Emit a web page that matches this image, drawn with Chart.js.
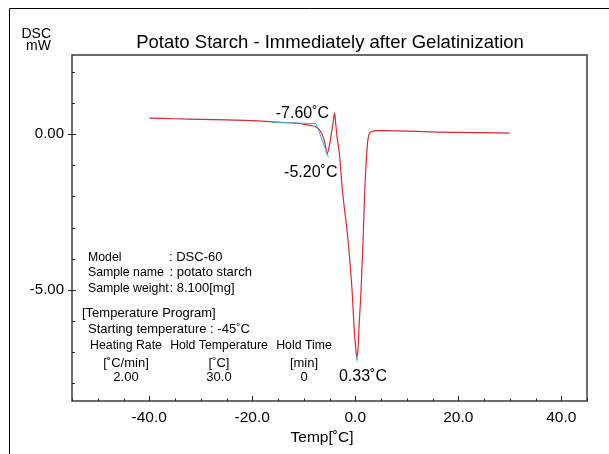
<!DOCTYPE html>
<html>
<head>
<meta charset="utf-8">
<script src="https://cdn.jsdelivr.net/npm/chart.js@4.4.1/dist/chart.umd.min.js"></script>
<style>
  html, body { margin: 0; padding: 0; background: #fff; }
  canvas { display: block; }
</style>
</head>
<body>
<canvas id="chart" width="609" height="454"></canvas>
<script>
// DSC trace (temperature in degC, heat flow in mW)
const tempC = [-40, -35, -30, -25, -20, -16, -13, -11, -9.5, -8.5, -7.8, -7.3, -6.9, -6.6, -6.3, -6.0, -5.75, -5.5,
    -5.2, -4.9, -4.6, -4.3, -4.0, -3.8, -3.55, -3.0, -2.5, -1.4, -0.62, -0.23, 0.1, 0.33, 0.55, 0.74, 1.13, 1.52,
    1.85, 2.15, 2.4, 2.7, 3.1, 3.6, 4.5, 6, 8, 12, 16, 20, 25, 30]
const heatFlow = [0.52, 0.50, 0.48, 0.46, 0.44, 0.40, 0.37, 0.35, 0.31, 0.28, 0.25, 0.20, 0.13, 0.05, -0.06, -0.22, -0.40, -0.63,
    -0.50, -0.25, 0.05, 0.38, 0.69, 0.35, -0.05, -0.75, -1.79, -3.40, -5.01, -6.19, -6.90, -7.18, -6.85, -6.19, -5.01, -3.40,
    -1.79, -0.85, -0.25, 0.00, 0.08, 0.11, 0.12, 0.12, 0.11, 0.09, 0.07, 0.06, 0.05, 0.04]

// onset analysis lines (blue)
const tangentTemp = [-16.2, -7.6, -5.2]
const tangentFlow = [0.39, 0.34, -0.74]
const peakMarkTemp = [0.33, 0.33]
const peakMarkFlow = [-7.14, -7.28]

// axes
const xTickValues = [-40, -20, 0, 20, 40]
const xMinorStep = 5
const yTickValues = [0, -5]
const yMinorStep = 1

// labels on the curve
const peakTexts = ['-7.60˚C', '-5.20˚C', '0.33˚C']
const peakTemps = [-7.6, -5.2, 0.33]
const peakFlows = [0.34, -0.74, -7.28]

// measurement info block
const infoNames = ['Model', 'Sample name', 'Sample weight']
const infoValues = [': DSC-60', ': potato starch', ': 8.100[mg]']
const programTitle = '[Temperature Program]'
const startTemp = 'Starting temperature : -45˚C'
const programHeaders = ['Heating Rate', 'Hold Temperature', 'Hold Time']
const programUnits = ['[˚C/min]', '[˚C]', '[min]']
const programValues = ['2.00', '30.0', '0']

const FONT = "'Liberation Sans', Arial, sans-serif"

function toPoints(xs, ys) {
    return xs.map((x, i) => ({ x: x, y: ys[i] }))
}

// draws frame, inner ticks and all the free text
const decorations = {
    id: 'decorations',
    afterDraw(chart) {
        const ctx = chart.ctx
        const area = chart.chartArea
        const xs = chart.scales.x
        const ys = chart.scales.y
        ctx.save()

        // outer picture frame (only top and left visible)
        ctx.strokeStyle = '#000'
        ctx.lineWidth = 1
        ctx.beginPath()
        ctx.moveTo(9.5, 454)
        ctx.lineTo(9.5, 8.5)
        ctx.lineTo(609, 8.5)
        ctx.stroke()

        // plot box
        ctx.strokeStyle = '#3c3c3c'
        ctx.lineWidth = 1.5
        ctx.strokeRect(area.left, area.top, area.right - area.left, area.bottom - area.top)

        // x ticks, pointing inwards
        ctx.strokeStyle = '#222'
        ctx.lineWidth = 1
        ctx.beginPath()
        for (let v = Math.ceil(xs.min / xMinorStep) * xMinorStep; v <= xs.max; v += xMinorStep) {
            const px = Math.round(xs.getPixelForValue(v)) + 0.5
            const len = xTickValues.includes(v) ? 5 : 2.5
            ctx.moveTo(px, area.bottom)
            ctx.lineTo(px, area.bottom - len)
        }
        // y ticks, majors cross the axis
        for (let v = Math.ceil(ys.min / yMinorStep) * yMinorStep; v <= ys.max; v += yMinorStep) {
            const py = Math.round(ys.getPixelForValue(v)) + 0.5
            const major = yTickValues.includes(v)
            ctx.moveTo(area.left - (major ? 4 : 0), py)
            ctx.lineTo(area.left + (major ? 4 : 3), py)
        }
        ctx.stroke()

        ctx.fillStyle = '#000'
        ctx.textBaseline = 'alphabetic'

        // title
        ctx.font = '18.5px ' + FONT
        ctx.textAlign = 'center'
        ctx.fillText('Potato Starch - Immediately after Gelatinization', 330, 48)

        // y unit
        ctx.font = '14px ' + FONT
        ctx.textAlign = 'right'
        ctx.fillText('DSC', 51, 38)
        ctx.fillText('mW', 51, 50)

        // x axis title
        ctx.font = '15.5px ' + FONT
        ctx.textAlign = 'center'
        ctx.fillText('Temp[˚C]', 322, 442)

        // peak labels
        ctx.font = '16px ' + FONT
        const offsets = [[13, -6, 'right'], [9, 20, 'right'], [-18, 20.5, 'left']]
        peakTexts.forEach((t, i) => {
            const px = xs.getPixelForValue(peakTemps[i])
            const py = ys.getPixelForValue(peakFlows[i])
            ctx.textAlign = offsets[i][2]
            ctx.fillText(t, px + offsets[i][0], py + offsets[i][1])
        })

        // info block
        ctx.textAlign = 'left'
        const infoY = [260.5, 276, 291.5]
        const colonX = [169, 169.5, 169.5]
        infoNames.forEach((n, i) => {
            ctx.font = '12.3px ' + FONT
            ctx.fillText(n, 88, infoY[i])
            ctx.font = '13px ' + FONT
            ctx.fillText(infoValues[i], colonX[i], infoY[i])
        })
        ctx.font = '13px ' + FONT
        ctx.fillText(programTitle, 82, 317)
        ctx.fillText(startTemp, 88, 332.5)
        const colX = [126, 219, 304]
        ctx.textAlign = 'center'
        programHeaders.forEach((h, i) => {
            ctx.font = '12.3px ' + FONT
            ctx.fillText(h, colX[i], 349)
            ctx.font = '13px ' + FONT
            ctx.fillText(programUnits[i], colX[i], 366.5)
            ctx.fillText(programValues[i], colX[i], 380.5)
        })

        ctx.restore()
    }
}

new Chart(document.getElementById('chart'), {
    type: 'line',
    data: {
        datasets: [
            {
                data: toPoints(tangentTemp, tangentFlow),
                borderColor: '#3aaee6',
                borderWidth: 1,
                pointRadius: 0,
                tension: 0,
                order: 0
            },
            {
                data: toPoints(peakMarkTemp, peakMarkFlow),
                borderColor: '#3aaee6',
                borderWidth: 1.5,
                pointRadius: 0,
                order: 0
            },
            {
                data: toPoints(tempC, heatFlow),
                borderColor: '#e0262e',
                borderWidth: 1.2,
                pointRadius: 0,
                cubicInterpolationMode: 'monotone',
                order: 1
            }
        ]
    },
    options: {
        responsive: false,
        animation: false,
        devicePixelRatio: 1,
        layout: { padding: { left: 0, top: 55, right: 22, bottom: 0 } },
        plugins: {
            legend: { display: false },
            tooltip: { enabled: false }
        },
        scales: {
            x: {
                type: 'linear',
                min: -55,
                max: 45,
                afterBuildTicks: (scale) => { scale.ticks = xTickValues.map(v => ({ value: v })) },
                afterFit: (scale) => { scale.height = 53 },
                grid: { display: false, drawTicks: false },
                border: { display: false },
                ticks: {
                    autoSkip: false,
                    maxRotation: 0,
                    padding: 7,
                    color: '#000',
                    font: { family: FONT, size: 15.5 },
                    callback: (v) => Number(v).toFixed(1)
                }
            },
            y: {
                type: 'linear',
                min: -8.58,
                max: 2.55,
                afterBuildTicks: (scale) => { scale.ticks = yTickValues.map(v => ({ value: v })) },
                afterFit: (scale) => { scale.width = 72 },
                grid: { display: false, drawTicks: false },
                border: { display: false },
                ticks: {
                    padding: 8,
                    color: '#000',
                    font: { family: FONT, size: 15 },
                    callback: (v) => Number(v).toFixed(2)
                }
            }
        }
    },
    plugins: [decorations]
})
</script>
</body>
</html>
